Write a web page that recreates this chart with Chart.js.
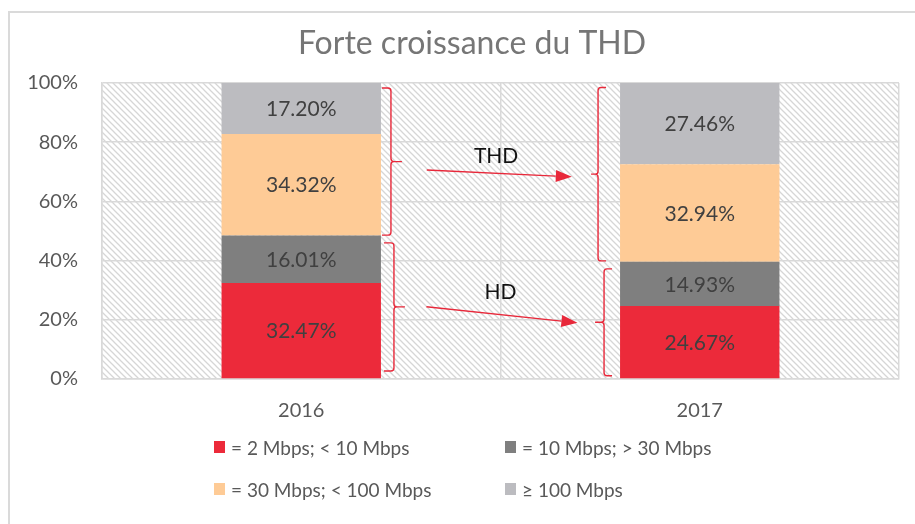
<!DOCTYPE html>
<html lang="fr">
<head>
<meta charset="utf-8">
<title>Forte croissance du THD</title>
<script src="https://cdn.jsdelivr.net/npm/chart.js@4.4.1/dist/chart.umd.min.js"></script>
<style>
  html, body { margin: 0; padding: 0; background: #fff; }
  #wrap { position: relative; width: 915px; height: 524px; overflow: hidden; font-family: Lato, 'Open Sans', sans-serif; }
  #frame { position: absolute; left: 8px; top: 11px; right: 0; bottom: 0; border-left: 2px solid #dadada; border-top: 2px solid #dadada; }
  #chart { position: absolute; left: 0; top: 0; }
  .legend-item { position: absolute; display: flex; align-items: center; font-size: 19px; color: #595959; white-space: nowrap; }
  .legend-item span.box { display: inline-block; width: 11px; height: 12px; margin-right: 6px; }
</style>
</head>
<body>
<div id="wrap">
  <div id="frame"></div>
  <canvas id="chart" width="915" height="524"></canvas>
  <div id="legend"></div>
</div>
<script>
'use strict';

// ─── DATA ────────────────────────────────────────────────────────────────────

const chartTitle  = 'Forte croissance du THD';
const years       = ['2016', '2017'];
const seriesNames = ['= 2 Mbps; < 10 Mbps', '= 10 Mbps; > 30 Mbps', '= 30 Mbps; < 100 Mbps', '≥ 100 Mbps'];
const lowSpeed    = [32.47, 24.67];
const midSpeed    = [16.01, 14.93];
const highSpeed   = [34.32, 32.94];
const veryHigh    = [17.20, 27.46];
const yTicks      = [0, 20, 40, 60, 80, 100];

const colors = ['#ec2a3a', '#7f7f7f', '#fecb96', '#bcbcc0'];

// accolades : [année, bas %, haut %]
const braces = [
  [0, 48.6, 98.3],
  [0, 2.7, 46.0],
  [1, 39.9, 98.5],
  [1, 1.1, 37.2],
];

// flèches : [label, x départ (catégorie), y départ %, x arrivée, y arrivée %, x texte, y texte %]
const arrows = [
  ['THD', 0.315, 70.6, 0.679, 68.3, 0.489, 75.3],
  ['HD',  0.314, 24.4, 0.693, 19.0, 0.500, 29.2],
];

// ─── PLUGINS ─────────────────────────────────────────────────────────────────

function hatchPattern(ctx) {
  const c = document.createElement('canvas');
  c.width = 6; c.height = 6;
  const p = c.getContext('2d');
  p.fillStyle = '#ffffff';
  p.fillRect(0, 0, 6, 6);
  p.strokeStyle = '#d6d6d6';
  p.lineWidth = 1.3;
  p.beginPath();
  p.moveTo(-1, -1); p.lineTo(7, 7);
  p.moveTo(-4, 2);  p.lineTo(4, 10);
  p.moveTo(2, -4);  p.lineTo(10, 4);
  p.stroke();
  return ctx.createPattern(c, 'repeat');
}

const hatchBg = {
  id: 'hatchBg',
  beforeDraw(chart) {
    const { ctx, chartArea: a } = chart;
    ctx.save();
    ctx.fillStyle = hatchPattern(ctx);
    ctx.fillRect(a.left, a.top, a.right - a.left, a.bottom - a.top);
    ctx.restore();
  },
};

// titre décalé vers la droite comme dans l'original
const titlePlugin = {
  id: 'titlePlugin',
  afterDraw(chart) {
    const { ctx } = chart;
    ctx.save();
    ctx.font = '32px Lato';
    ctx.fillStyle = '#767676';
    ctx.textAlign = 'center';
    ctx.textBaseline = 'middle';
    ctx.fillText(chartTitle, 472, 44);
    ctx.restore();
  },
};

const barLabels = {
  id: 'barLabels',
  afterDatasetsDraw(chart) {
    const { ctx } = chart;
    ctx.save();
    ctx.font = '21px Lato';
    ctx.fillStyle = '#404040';
    ctx.textAlign = 'center';
    ctx.textBaseline = 'middle';
    chart.data.datasets.forEach((ds, i) => {
      chart.getDatasetMeta(i).data.forEach((bar, j) => {
        ctx.fillText(ds.data[j].toFixed(2) + '%', bar.x, (bar.y + bar.base) / 2 + 1);
      });
    });
    ctx.restore();
  },
};

function drawBrace(ctx, xArm, xSpine, xTip, yTop, yBot) {
  const yMid = (yTop + yBot) / 2;
  ctx.beginPath();
  ctx.moveTo(xArm, yTop);
  ctx.arcTo(xSpine, yTop, xSpine, yMid, 3);
  ctx.arcTo(xSpine, yMid, xTip, yMid, 3);
  ctx.lineTo(xTip, yMid);
  ctx.moveTo(xTip, yMid);
  ctx.arcTo(xSpine, yMid, xSpine, yBot, 3);
  ctx.arcTo(xSpine, yBot, xArm, yBot, 3);
  ctx.lineTo(xArm, yBot);
  ctx.stroke();
}

const annotations = {
  id: 'annotations',
  afterDatasetsDraw(chart) {
    const { ctx, scales: { x, y } } = chart;
    const bars = chart.getDatasetMeta(0).data;
    const catX = v => {
      const x0 = x.getPixelForValue(0), x1 = x.getPixelForValue(1);
      return x0 + v * (x1 - x0);
    };

    ctx.save();
    ctx.strokeStyle = '#e8283a';
    ctx.fillStyle = '#e8283a';
    ctx.lineWidth = 1.4;

    braces.forEach(([cat, lo, hi]) => {
      const bar = bars[cat];
      const yTop = y.getPixelForValue(hi), yBot = y.getPixelForValue(lo);
      const thd = lo > 30;
      if (cat === 0) {
        const edge = bar.x + bar.width / 2;
        const o = thd ? [1, 10, 21] : [3, 13, 24];
        drawBrace(ctx, edge + o[0], edge + o[1], edge + o[2], yTop, yBot);
      } else {
        const edge = bar.x - bar.width / 2;
        const o = thd ? [14, 22, 29] : [8, 16, 25];
        drawBrace(ctx, edge - o[0], edge - o[1], edge - o[2], yTop, yBot);
      }
    });

    arrows.forEach(([label, xs, ys, xe, ye, xt, yt]) => {
      const x1 = catX(xs), y1 = y.getPixelForValue(ys);
      const x2 = catX(xe), y2 = y.getPixelForValue(ye);
      const ang = Math.atan2(y2 - y1, x2 - x1);
      const len = 16, half = 6;
      const bx = x2 - len * Math.cos(ang), by = y2 - len * Math.sin(ang);
      ctx.beginPath();
      ctx.moveTo(x1, y1);
      ctx.lineTo(bx, by);
      ctx.stroke();
      ctx.beginPath();
      ctx.moveTo(x2, y2);
      ctx.lineTo(bx - half * Math.sin(ang), by + half * Math.cos(ang));
      ctx.lineTo(bx + half * Math.sin(ang), by - half * Math.cos(ang));
      ctx.closePath();
      ctx.fill();

      ctx.fillStyle = '#111111';
      ctx.font = '21px Lato';
      ctx.textAlign = 'center';
      ctx.textBaseline = 'middle';
      ctx.fillText(label, catX(xt), y.getPixelForValue(yt));
      ctx.fillStyle = '#e8283a';
    });
    ctx.restore();
  },
};

// ─── CHART ───────────────────────────────────────────────────────────────────

const seriesData = [lowSpeed, midSpeed, highSpeed, veryHigh];

new Chart(document.getElementById('chart'), {
  type: 'bar',
  data: {
    labels: years,
    datasets: seriesNames.map((name, i) => ({
      label:           name,
      data:            seriesData[i],
      backgroundColor: colors[i],
      borderWidth:     0,
      barPercentage:   0.4,
      categoryPercentage: 1,
    })),
  },
  options: {
    responsive: false,
    animation:  false,
    layout: { padding: { left: 28, right: 16, top: 83, bottom: 105 } },
    plugins: {
      legend:  { display: false },
      tooltip: { enabled: false },
      title:   { display: false },
    },
    scales: {
      x: {
        stacked: true,
        grid:    { color: '#d9d9d9', lineWidth: 1.5, drawTicks: false },
        border:  { color: '#d9d9d9', width: 1.5 },
        ticks:   { color: '#595959', font: { family: 'Lato', size: 20 }, padding: 20 },
        afterFit: s => { s.height = 40; },
      },
      y: {
        stacked: true,
        min: 0,
        max: 100,
        afterBuildTicks: s => { s.ticks = yTicks.map(v => ({ value: v })); },
        grid:    { color: '#d9d9d9', lineWidth: 1.5, drawTicks: false },
        border:  { color: '#d9d9d9', width: 1.5 },
        ticks:   {
          color: '#595959',
          font: { family: 'Lato', size: 20 },
          padding: 24,
          callback: v => v + '%',
        },
        afterFit: s => { s.width = 74; },
      },
    },
  },
  plugins: [hatchBg, barLabels, annotations, titlePlugin],
});

// ─── LEGEND (HTML) ───────────────────────────────────────────────────────────

const legendPos = [[214, 447], [505, 447], [214, 489], [505, 489]];
document.getElementById('legend').innerHTML = seriesNames.map((name, i) => `
  <div class="legend-item" style="left:${legendPos[i][0]}px;top:${legendPos[i][1] - 12}px;height:24px;">
    <span class="box" style="background:${colors[i]}"></span>${name}
  </div>`).join('');
</script>
</body>
</html>
